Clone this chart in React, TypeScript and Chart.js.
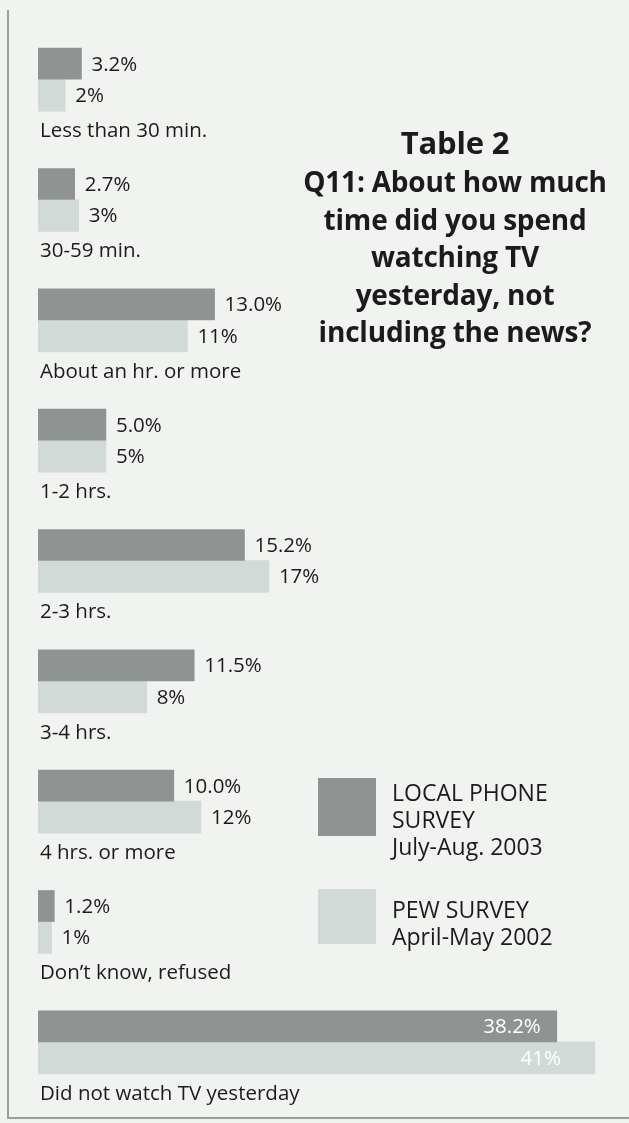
import React, { useEffect, useRef } from "react";
import { Chart, registerables } from "chart.js";

Chart.register(...registerables);

const categories: string[] = [
  "Less than 30 min.",
  "30-59 min.",
  "About an hr. or more",
  "1-2 hrs.",
  "2-3 hrs.",
  "3-4 hrs.",
  "4 hrs. or more",
  "Don\u2019t know, refused",
  "Did not watch TV yesterday",
];

const localPhone2003: number[] = [3.2, 2.7, 13.0, 5.0, 15.2, 11.5, 10.0, 1.2, 38.2];
const pew2002: number[] = [2, 3, 11, 5, 17, 8, 12, 1, 41];

const seriesNames: string[] = ["LOCAL PHONE SURVEY July-Aug. 2003", "PEW SURVEY April-May 2002"];
const legendLines: string[][] = [
  ["LOCAL PHONE", "SURVEY", "July-Aug. 2003"],
  ["PEW SURVEY", "April-May 2002"],
];
const titleLines: string[] = [
  "Q11: About how much",
  "time did you spend",
  "watching TV",
  "yesterday, not",
  "including the news?",
];
const titleHead = "Table 2";

const DARK = "#8f9391";
const LIGHT = "#d2dad7";
const BG = "#f1f3f0";
const INK = "#1b1b1b";
const FONT = "'Open Sans', 'Noto Sans', sans-serif";

const valueFormats = [
  (v: number) => v.toFixed(1) + "%",
  (v: number) => String(v) + "%",
];

const labelsPlugin = {
  id: "groupLabels",
  afterDatasetsDraw(chart: any) {
    const ctx: CanvasRenderingContext2D = chart.ctx;
    const yScale = chart.scales.y;
    const area = chart.chartArea;
    ctx.save();
    ctx.textBaseline = "middle";
    // category labels under each pair of bars
    ctx.font = `20.5px ${FONT}`;
    ctx.fillStyle = INK;
    ctx.textAlign = "left";
    categories.forEach((cat, i) => {
      const y = yScale.getPixelForValue(i);
      ctx.fillText(cat, area.left + 2, y + 52);
    });
    // value labels
    chart.data.datasets.forEach((ds: any, di: number) => {
      const meta = chart.getDatasetMeta(di);
      meta.data.forEach((bar: any, i: number) => {
        const v = ds.data[i] as number;
        const text = valueFormats[di](v);
        const p = bar.getProps(["x", "y", "base"], true);
        ctx.font = `20.5px ${FONT}`;
        if (v > 30) {
          ctx.fillStyle = "#ffffff";
          ctx.textAlign = "right";
          ctx.fillText(text, p.x - (di === 0 ? 16 : 34), p.y + 1);
        } else {
          ctx.fillStyle = INK;
          ctx.textAlign = "left";
          ctx.fillText(text, p.x + 10, p.y + 1);
        }
      });
    });
    ctx.restore();
  },
};

const framePlugin = {
  id: "frame",
  beforeDraw(chart: any) {
    const ctx: CanvasRenderingContext2D = chart.ctx;
    ctx.save();
    ctx.fillStyle = BG;
    ctx.fillRect(0, 0, chart.width, chart.height);
    ctx.strokeStyle = "#9c9e9c";
    ctx.lineWidth = 2;
    ctx.beginPath();
    ctx.moveTo(8, 10);
    ctx.lineTo(8, 1118);
    ctx.lineTo(chart.width, 1118);
    ctx.stroke();
    ctx.restore();
  },
};

export default function App() {
  const canvasRef = useRef<HTMLCanvasElement | null>(null);

  useEffect(() => {
    if (!canvasRef.current) return;
    const chart = new Chart(canvasRef.current, {
      type: "bar",
      data: {
        labels: categories,
        datasets: [
          {
            label: seriesNames[0],
            data: localPhone2003,
            backgroundColor: DARK,
            borderWidth: 0,
            barThickness: 31,
          },
          {
            label: seriesNames[1],
            data: pew2002,
            backgroundColor: LIGHT,
            borderWidth: 0,
            barThickness: 32,
          },
        ],
      },
      options: {
        indexAxis: "y",
        animation: false,
        responsive: false,
        maintainAspectRatio: false,
        layout: { padding: { left: 38, right: 7, top: 19, bottom: 21 } },
        plugins: {
          legend: { display: false },
          tooltip: { enabled: false },
          title: { display: false },
        },
        scales: {
          x: { display: false, min: 0, max: 43, grid: { display: false } },
          y: { display: false, offset: true, grid: { display: false } },
        },
      },
      plugins: [framePlugin, labelsPlugin],
    });
    return () => chart.destroy();
  }, []);

  const titleStyle: React.CSSProperties = {
    position: "absolute",
    left: 295,
    width: 320,
    top: 121,
    textAlign: "center",
    fontFamily: FONT,
    fontWeight: 700,
    color: INK,
    letterSpacing: "-0.2px",
  };

  const legendText: React.CSSProperties = {
    position: "absolute",
    left: 392,
    fontFamily: FONT,
    fontSize: 23,
    lineHeight: "27px",
    color: INK,
  };

  return (
    <div
      style={{
        position: "absolute",
        left: 0,
        top: 0,
        width: 629,
        height: 1123,
        overflow: "hidden",
        background: BG,
      }}
    >
      <canvas ref={canvasRef} width={629} height={1123} style={{ display: "block" }} />
      <div style={titleStyle}>
        <div style={{ fontSize: 31, lineHeight: "42px" }}>{titleHead}</div>
        {titleLines.map((t, i) => (
          <div key={i} style={{ fontSize: 28, lineHeight: "37.5px" }}>
            {t}
          </div>
        ))}
      </div>
      <div style={{ position: "absolute", left: 318, top: 778, width: 58, height: 58, background: DARK }} />
      <div style={{ position: "absolute", left: 318, top: 889, width: 58, height: 55, background: LIGHT }} />
      <div style={{ ...legendText, top: 779 }}>
        {legendLines[0].map((t, i) => (
          <div key={i}>{t}</div>
        ))}
      </div>
      <div style={{ ...legendText, top: 896 }}>
        {legendLines[1].map((t, i) => (
          <div key={i}>{t}</div>
        ))}
      </div>
    </div>
  );
}
